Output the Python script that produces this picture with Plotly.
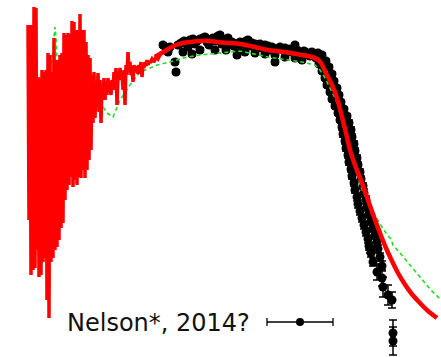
import plotly.graph_objects as go

# ---- observed (noisy) spectrum ----
noisy_x = [28, 29, 30, 31, 32, 33, 34, 35, 36, 37, 38, 39, 40, 41, 42, 43, 44, 45, 46, 47,
           48, 49, 50, 51, 52, 53, 54, 55, 56, 57, 58, 59, 60, 61, 62, 63, 64, 65, 66, 67,
           68, 69, 70, 71, 72, 73, 74, 75, 76, 77, 78, 79, 80, 81, 82, 83, 84, 85, 86, 87,
           88, 89, 90, 91, 92, 93, 94, 95, 96, 97, 98, 99, 100, 101, 102, 103, 104, 105, 106, 107,
           108, 109, 110, 111, 112, 113, 114, 115, 116, 117, 118, 119, 120, 121, 122, 123, 124, 125, 126, 127,
           128, 129, 130, 131, 132, 133, 134, 135, 136, 137, 138, 139, 140, 141, 142, 143, 144, 145, 146, 147,
           148, 149, 150, 152, 154, 156, 158, 160]
noisy_y = [25, 220, 25, 275, 25, 270, 7, 268, 8, 250, 77, 277, 78, 275, 70, 262, 72, 258, 70, 300,
           53, 318, 55, 262, 72, 258, 38, 250, 60, 247, 60, 240, 55, 228, 53, 223, 33, 200, 35, 190,
           33, 185, 34, 177, 21, 187, 22, 180, 30, 185, 30, 177, 14, 178, 30, 170, 30, 178, 42, 170,
           55, 160, 58, 150, 75, 123, 72, 118, 85, 105, 73, 112, 80, 123, 85, 98, 78, 100, 82, 95,
           78, 92, 85, 95, 80, 90, 72, 88, 68, 105, 75, 80, 68, 78, 72, 90, 70, 105, 65, 75,
           52, 70, 62, 75, 68, 82, 65, 72, 70, 66, 74, 65, 70, 62, 77, 65, 68, 62, 66, 60,
           65, 61, 63, 59, 62, 57, 59, 55]

# ---- red model ----
model_x = [155, 160, 165, 170, 176, 183, 190, 200, 210, 217, 230, 240, 255, 268, 285, 302, 312, 317,
           321, 325, 329, 332, 336, 339, 342, 346, 350, 355, 362, 368, 374, 380, 386, 392, 398,
           404, 411, 419, 428, 437]
model_y = [57, 54, 51, 48, 45, 43, 42, 41, 41, 42, 43, 44, 47, 50, 52, 55, 57, 59,
           63, 71, 79, 85, 95, 105, 117, 133, 150, 165, 183, 200, 217, 233, 248, 261, 273,
           283, 293, 302, 311, 318]

# ---- green dashed model ----
alt_x = [28, 45, 52, 55, 56, 58, 70, 85, 97, 107, 113, 120, 130, 140, 150, 157, 170, 183, 200, 217,
         240, 268, 302, 315, 320, 325, 330, 336, 342, 348, 354, 360, 366, 372, 380, 388, 391, 393,
         400, 410, 420, 430, 441]
alt_y = [90, 100, 60, 27, 38, 80, 90, 90, 97, 113, 117, 100, 85, 72, 68, 65, 62, 58, 55, 53,
         51, 57, 62, 65, 70, 78, 88, 100, 118, 140, 160, 185, 198, 210, 224, 236, 239, 245,
         253, 265, 277, 289, 300]

# ---- observations (Nelson*, 2014?) ----
obs_x = [163, 166, 168, 170, 175, 176, 178, 181, 184, 187, 188, 190, 193, 195, 197, 200, 203, 205, 207, 209,
         211, 213, 216, 218, 220, 222, 225, 228, 230, 232, 234, 237, 238, 240, 243, 246, 248, 250, 252, 255,
         258, 260, 262, 265, 268, 270, 272, 275, 275, 278, 280, 283, 285, 288, 290, 292, 295, 297, 300, 302,
         304, 306, 308, 310, 312, 314, 317, 318, 320,
         183, 192, 200, 215, 226, 245, 255, 265, 285, 295,
         322, 316, 326, 319, 329, 322, 332, 325, 334, 327, 337, 330, 339, 332, 341, 335, 344, 338, 347, 340,
         349, 342, 351, 343, 352, 345, 354, 346, 355, 348, 357, 349, 358, 351, 360, 352, 361, 354, 363, 355,
         364, 357, 366, 358, 367, 360, 369, 362, 371, 364, 373, 366, 375, 368, 377, 369, 378, 371, 380, 373,
         382, 370, 377, 382, 383, 388, 392, 393, 393]
obs_y = [45, 48, 52, 47, 62, 72, 45, 43, 41, 42, 47, 40, 39, 44, 41, 39, 38, 37, 42, 45,
         40, 38, 41, 36, 35, 44, 40, 38, 43, 42, 46, 55, 50, 42, 44, 41, 40, 46, 43, 44,
         47, 44, 48, 45, 46, 50, 47, 55, 62, 49, 47, 50, 48, 51, 49, 52, 45, 50, 53, 60,
         51, 54, 53, 56, 52, 55, 58, 53, 57,
         52, 54, 50, 50, 50, 52, 53, 54, 57, 58,
         55, 58, 61, 64, 67, 71, 74, 78, 81, 85, 88, 92, 95, 99, 102, 106, 109, 113, 116, 120,
         123, 127, 130, 134, 137, 141, 144, 148, 151, 155, 158, 162, 165, 169, 172, 176, 179, 183, 186, 190,
         193, 197, 200, 204, 207, 211, 214, 218, 221, 225, 228, 232, 235, 239, 242, 246, 249, 253, 257, 262,
         266, 248, 272, 278, 287, 295, 300, 333, 341]
obs_err = ([2] * 79 + [2] * 20 + [3] * 20 + [4] * 20 +
           [5, 5, 8, 8, 10, 10, 8, 13, 14])

legend_label = "Nelson*, 2014?"

fig = go.Figure()

fig.add_trace(go.Scatter(
    x=obs_x, y=obs_y, mode="markers",
    marker=dict(color="black", size=9),
    error_y=dict(type="data", array=obs_err, color="black", thickness=1.5, width=4),
    showlegend=False))

fig.add_trace(go.Scatter(
    x=alt_x, y=alt_y, mode="lines",
    line=dict(color="#22dd22", width=1.6, dash="4px,3px"),
    showlegend=False))

fig.add_trace(go.Scatter(
    x=noisy_x, y=noisy_y, mode="lines",
    line=dict(color="#ff0000", width=3.5),
    showlegend=False))

fig.add_trace(go.Scatter(
    x=model_x, y=model_y, mode="lines",
    line=dict(color="#ff0000", width=4.5, shape="spline", smoothing=0.6),
    showlegend=False))

# legend key (marker with horizontal error bar) placed to the right of the label
fig.add_trace(go.Scatter(
    x=[300], y=[322], mode="markers",
    marker=dict(color="black", size=8),
    error_x=dict(type="data", array=[33], color="black", thickness=1.3, width=4),
    showlegend=False, hoverinfo="skip"))

fig.add_annotation(
    x=65, y=323, xref="x", yref="y", text=legend_label, showarrow=False,
    xanchor="left", yanchor="middle",
    font=dict(family="DejaVu Sans, sans-serif", size=24, color="#111111"))

fig.update_xaxes(range=[0, 441], visible=False, showgrid=False, zeroline=False)
fig.update_yaxes(range=[357, 0], visible=False, showgrid=False, zeroline=False)
fig.update_layout(
    width=441, height=357,
    margin=dict(l=0, r=0, t=0, b=0),
    paper_bgcolor="white", plot_bgcolor="white")

fig.write_html("out.html")
